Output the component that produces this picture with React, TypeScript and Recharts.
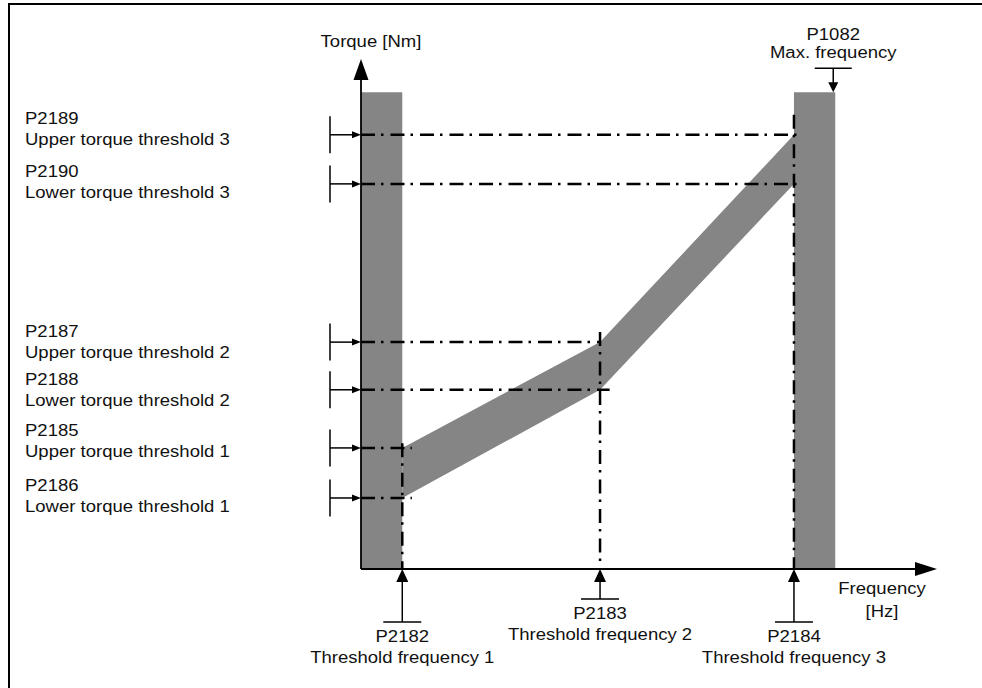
import { ComposedChart, Area, XAxis, YAxis, ReferenceArea, ReferenceLine, ReferenceDot } from 'recharts';

// frequency axis (arbitrary units, 0..60) and torque axis (0..107)
const X_MAX = 60;
const Y_MAX = 107;
const F_MAX = 49.4;
const BAR_TOP = 100;

// threshold frequencies along the x axis
const FREQS = [4.3, 24.9, 45.1];
const FREQ_PARAMS = ['P2182', 'P2183', 'P2184'];
const FREQ_NAMES = ['Threshold frequency 1', 'Threshold frequency 2', 'Threshold frequency 3'];
const FREQ_LINE_TOP = [26.4, 49.7, 95.3];

// torque thresholds, top to bottom
const TORQUE_PARAMS = ['P2189', 'P2190', 'P2187', 'P2188', 'P2185', 'P2186'];
const TORQUE_NAMES = [
    'Upper torque threshold 3',
    'Lower torque threshold 3',
    'Upper torque threshold 2',
    'Lower torque threshold 2',
    'Upper torque threshold 1',
    'Lower torque threshold 1',
];
const TORQUE_LEVELS = [91.1, 80.8, 47.6, 37.6, 25.4, 14.9];
const TORQUE_LINE_END = [45.9, 45.9, 24.9, 25.9, 5.3, 5.3];

// permitted torque band
const BAND_FREQ = [4.3, 24.9, 45.1];
const BAND_LOWER = [14.9, 37.6, 80.8];
const BAND_UPPER = [25.4, 47.6, 91.1];

const bandData = BAND_FREQ.map((f, i) => ({ f, lo: BAND_LOWER[i], hi: BAND_UPPER[i] }));

// layout bits (pixels)
const LABEL_DY = [-16.5, -13, -10.5, -10.5, -18, -12.5];
const FREQ_STEM = [53, 30, 53];

const GREY = '#858585';
const DASH_DOT = '14 6 2.5 7';
const FONT = '"Liberation Sans", Arial, sans-serif';

function Txt({ x, y, children, anchor = 'middle' }: { x: number; y: number; children: string; anchor?: string }) {
    return (
        <text
            transform={`translate(${x} ${y}) scale(1.09 1)`}
            textAnchor={anchor as any}
            dominantBaseline="central"
            fontSize={17}
            fontFamily={FONT}
            fill="#111"
        >
            {children}
        </text>
    );
}

function torqueShape(i: number) {
    return (p: any) => {
        const { x1, x2, y1 } = p;
        const mx = x1 - 31;
        return (
            <g>
                <line x1={x1} y1={y1} x2={x2} y2={y1} stroke="#000" strokeWidth={2.5} strokeDasharray={DASH_DOT} />
                <line x1={mx} y1={y1 - 18.5} x2={mx} y2={y1 + 18.5} stroke="#000" strokeWidth={1.5} />
                <line x1={mx} y1={y1} x2={x1 - 8} y2={y1} stroke="#000" strokeWidth={1.5} />
                <polygon points={`${x1},${y1} ${x1 - 9},${y1 - 3.5} ${x1 - 9},${y1 + 3.5}`} fill="#000" />
                <Txt x={25} y={y1 + LABEL_DY[i]} anchor="start">{TORQUE_PARAMS[i]}</Txt>
                <Txt x={25} y={y1 + LABEL_DY[i] + 21} anchor="start">{TORQUE_NAMES[i]}</Txt>
            </g>
        );
    };
}

function freqShape(i: number) {
    return (p: any) => {
        const { x1, y1, y2 } = p;
        const top = Math.min(y1, y2);
        const axis = Math.max(y1, y2);
        const stemEnd = axis + FREQ_STEM[i];
        return (
            <g>
                <line x1={x1} y1={top} x2={x1} y2={axis} stroke="#000" strokeWidth={2.5} strokeDasharray={DASH_DOT} />
                <polygon points={`${x1},${axis} ${x1 - 6},${axis + 13} ${x1 + 6},${axis + 13}`} fill="#000" />
                <line x1={x1} y1={axis + 12} x2={x1} y2={stemEnd} stroke="#000" strokeWidth={1.5} />
                <line x1={x1 - 19} y1={stemEnd} x2={x1 + 19} y2={stemEnd} stroke="#000" strokeWidth={1.5} />
                <Txt x={x1} y={stemEnd + 14}>{FREQ_PARAMS[i]}</Txt>
                <Txt x={x1} y={stemEnd + 35.5}>{FREQ_NAMES[i]}</Txt>
            </g>
        );
    };
}

const axisShape = (p: any) => (
    <line x1={p.x1} y1={p.y1} x2={p.x2} y2={p.y2} stroke="#000" strokeWidth={1.8} />
);

const yArrow = (p: any) => {
    const { cx, cy } = p;
    return (
        <g>
            <polygon points={`${cx},${cy} ${cx - 7.5},${cy + 21} ${cx + 7.5},${cy + 21}`} fill="#000" />
            <Txt x={cx + 10} y={cy - 17.5}>Torque [Nm]</Txt>
        </g>
    );
};

const xArrow = (p: any) => {
    const { cx, cy } = p;
    return (
        <g>
            <polygon points={`${cx},${cy} ${cx - 22},${cy - 7} ${cx - 22},${cy + 7}`} fill="#000" />
            <Txt x={cx - 55} y={cy + 19}>Frequency</Txt>
            <Txt x={cx - 55} y={cy + 42}>[Hz]</Txt>
        </g>
    );
};

const maxMarker = (p: any) => {
    const { cx, cy } = p;
    const ax = cx - 2;
    return (
        <g>
            <line x1={ax - 18.5} y1={cy - 24} x2={ax + 18.5} y2={cy - 24} stroke="#000" strokeWidth={1.5} />
            <line x1={ax} y1={cy - 24} x2={ax} y2={cy - 9} stroke="#000" strokeWidth={1.5} />
            <polygon points={`${ax},${cy} ${ax - 5},${cy - 10} ${ax + 5},${cy - 10}`} fill="#000" />
            <Txt x={ax} y={cy - 58.5}>P1082</Txt>
            <Txt x={ax} y={cy - 40}>Max. frequency</Txt>
        </g>
    );
};

export default function App() {
    return (
        <div style={{ position: 'absolute', left: 0, top: 0, width: 982, height: 688, background: '#fff', overflow: 'hidden' }}>
            <div
                style={{
                    position: 'absolute',
                    left: 8,
                    top: 3,
                    width: 974,
                    height: 685,
                    borderTop: '2px solid #000',
                    borderLeft: '2px solid #000',
                    boxSizing: 'border-box',
                }}
            />
            <div style={{ position: 'absolute', left: 0, top: 0 }}>
                <ComposedChart width={982} height={688} data={bandData} margin={{ top: 59, right: 45, bottom: 119, left: 361 }}>
                    <XAxis dataKey="f" type="number" domain={[0, X_MAX]} allowDataOverflow height={0} hide />
                    <YAxis type="number" domain={[0, Y_MAX]} allowDataOverflow width={0} hide />
                    <ReferenceArea x1={0} x2={FREQS[0]} y1={0} y2={BAR_TOP} fill={GREY} fillOpacity={1} stroke="none" ifOverflow="visible" />
                    <ReferenceArea x1={FREQS[2]} x2={F_MAX} y1={0} y2={BAR_TOP} fill={GREY} fillOpacity={1} stroke="none" ifOverflow="visible" />
                    <Area
                        type="linear"
                        dataKey={(d: any) => [d.lo, d.hi]}
                        fill={GREY}
                        fillOpacity={1}
                        stroke="none"
                        dot={false}
                        activeDot={false}
                        isAnimationActive={false}
                    />
                    {TORQUE_LEVELS.map((lvl, i) => (
                        <ReferenceLine
                            key={`t-${i}`}
                            segment={[{ x: 0, y: lvl }, { x: TORQUE_LINE_END[i], y: lvl }]}
                            ifOverflow="visible"
                            shape={torqueShape(i)}
                        />
                    ))}
                    {FREQS.map((f, i) => (
                        <ReferenceLine
                            key={`f-${i}`}
                            segment={[{ x: f, y: FREQ_LINE_TOP[i] }, { x: f, y: 0 }]}
                            ifOverflow="visible"
                            shape={freqShape(i)}
                        />
                    ))}
                    <ReferenceLine segment={[{ x: 0, y: 0 }, { x: 0, y: Y_MAX - 4 }]} ifOverflow="visible" shape={axisShape} />
                    <ReferenceLine segment={[{ x: 0, y: 0 }, { x: X_MAX - 2, y: 0 }]} ifOverflow="visible" shape={axisShape} />
                    <ReferenceDot x={0} y={Y_MAX} r={0} ifOverflow="visible" shape={yArrow} />
                    <ReferenceDot x={X_MAX} y={0} r={0} ifOverflow="visible" shape={xArrow} />
                    <ReferenceDot x={F_MAX} y={BAR_TOP} r={0} ifOverflow="visible" shape={maxMarker} />
                </ComposedChart>
            </div>
        </div>
    );
}
